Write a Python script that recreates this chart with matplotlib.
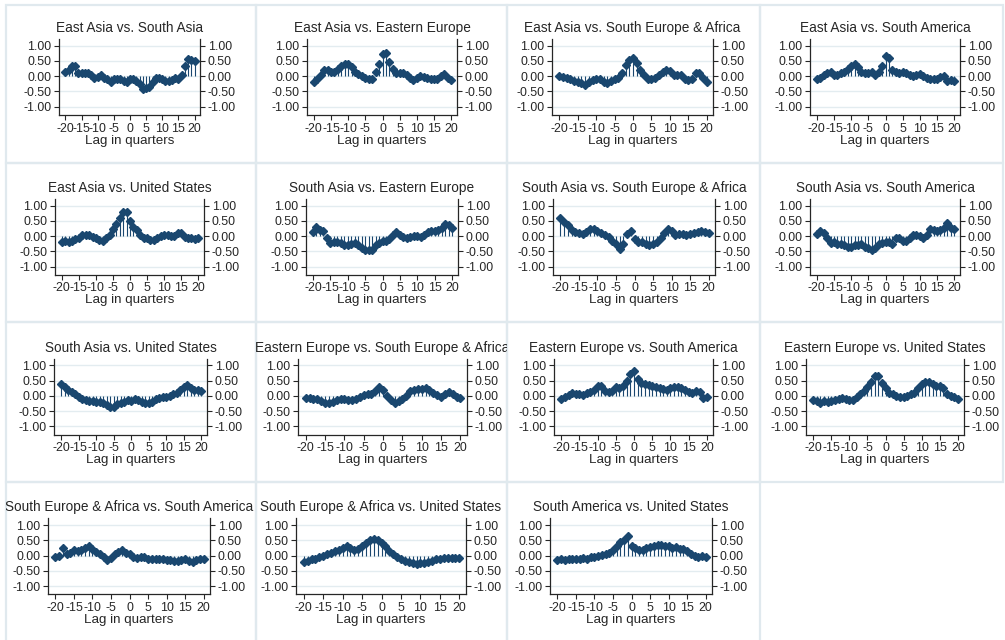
import numpy as np
import matplotlib
matplotlib.use("Agg")
import matplotlib.pyplot as plt
from matplotlib.patches import Rectangle
from matplotlib.transforms import Bbox, TransformedBbox

plt.rcParams['font.family'] = ['Liberation Sans', 'DejaVu Sans']
plt.rcParams['axes.unicode_minus'] = False

lags = np.arange(-20, 21)

titles = [
    "East Asia vs. South Asia",
    "East Asia vs. Eastern Europe",
    "East Asia vs. South Europe & Africa",
    "East Asia vs. South America",
    "East Asia vs. United States",
    "South Asia vs. Eastern Europe",
    "South Asia vs. South Europe & Africa",
    "South Asia vs. South America",
    "South Asia vs. United States",
    "Eastern Europe vs. South Europe & Africa",
    "Eastern Europe vs. South America",
    "Eastern Europe vs. United States",
    "South Europe & Africa vs. South America",
    "South Europe & Africa vs. United States",
    "South America vs. United States",
]

ea_sa = [0.15, 0.20, 0.33, 0.33, 0.12, 0.12, 0.10, 0.12, 0.05, -0.05,
         -0.02, 0.03, -0.05, -0.10, -0.18, -0.10, -0.08, -0.10, -0.15, -0.18,
         -0.08, -0.08, -0.15, -0.25, -0.42, -0.38, -0.35, -0.20, -0.05, -0.05,
         -0.08, -0.15, -0.15, -0.12, -0.05, -0.08, 0.05, 0.35, 0.55, 0.52, 0.50]
ea_ee = [-0.18, -0.10, 0.05, 0.20, 0.22, 0.15, 0.15, 0.25, 0.35, 0.40,
         0.40, 0.30, 0.15, 0.08, 0.02, -0.05, -0.08, -0.08, 0.15, 0.40,
         0.72, 0.75, 0.48, 0.25, 0.10, 0.12, 0.12, 0.05, -0.05, -0.12,
         -0.05, 0.00, -0.02, -0.05, -0.08, -0.10, -0.08, 0.00, 0.08, -0.05, -0.12]
ea_sea = [0.00, -0.03, -0.05, -0.10, -0.15, -0.18, -0.22, -0.28, -0.18, -0.12,
          -0.08, -0.10, -0.18, -0.22, -0.15, -0.10, -0.05, 0.12, 0.38, 0.52,
          0.60, 0.42, 0.22, 0.05, -0.10, -0.08, -0.05, 0.05, 0.15, 0.22,
          0.18, 0.05, 0.05, 0.05, -0.10, -0.12, -0.10, 0.10, 0.10, -0.05, -0.20]
ea_sam = [-0.08, -0.05, 0.05, 0.12, 0.15, 0.05, 0.05, 0.10, 0.15, 0.25,
          0.35, 0.40, 0.30, 0.15, 0.10, 0.12, 0.15, 0.05, 0.15, 0.32,
          0.65, 0.60, 0.22, 0.15, 0.12, 0.15, 0.10, 0.05, 0.00, 0.05,
          0.08, 0.00, -0.05, -0.08, -0.10, -0.08, -0.02, 0.02, -0.15, -0.12, -0.15]
ea_us = [-0.18, -0.15, -0.18, -0.15, -0.10, -0.05, 0.02, 0.05, 0.02, -0.02,
         -0.08, -0.12, -0.15, -0.05, 0.05, 0.22, 0.40, 0.60, 0.80, 0.78,
         0.50, 0.30, 0.20, 0.05, -0.05, -0.08, -0.12, -0.12, -0.05, 0.00,
         0.02, 0.02, 0.00, 0.00, 0.10, 0.10, -0.02, -0.08, -0.08, -0.10, -0.08]
sa_ee = [0.12, 0.28, 0.20, 0.15, -0.05, -0.22, -0.20, -0.20, -0.22, -0.28,
         -0.30, -0.25, -0.22, -0.30, -0.38, -0.45, -0.45, -0.45, -0.30, -0.22,
         -0.15, -0.15, -0.10, 0.05, 0.12, 0.05, -0.02, -0.05, -0.02, 0.00,
         0.00, -0.02, 0.05, 0.12, 0.15, 0.18, 0.20, 0.25, 0.38, 0.35, 0.25]
sa_sea = [0.58, 0.45, 0.35, 0.20, 0.12, 0.10, 0.08, 0.12, 0.22, 0.22,
          0.15, 0.10, 0.02, -0.02, -0.15, -0.25, -0.42, -0.25, 0.08, 0.15,
          -0.10, -0.20, -0.20, -0.25, -0.30, -0.25, -0.20, -0.05, 0.10, 0.22,
          0.15, 0.05, 0.08, 0.08, 0.05, 0.08, 0.10, 0.12, 0.18, 0.12, 0.10]
sa_sam = [0.08, 0.15, 0.10, -0.05, -0.22, -0.20, -0.25, -0.25, -0.30, -0.35,
          -0.35, -0.30, -0.28, -0.25, -0.35, -0.38, -0.45, -0.40, -0.25, -0.22,
          -0.20, -0.18, -0.25, -0.05, -0.05, -0.15, -0.15, -0.05, 0.02, 0.02,
          0.00, -0.05, 0.05, 0.22, 0.20, 0.18, 0.20, 0.25, 0.42, 0.25, 0.22]
sa_us = [0.40, 0.28, 0.18, 0.12, 0.05, -0.05, -0.12, -0.15, -0.18, -0.18,
         -0.20, -0.20, -0.25, -0.30, -0.35, -0.38, -0.28, -0.22, -0.20, -0.15,
         -0.18, -0.10, -0.15, -0.20, -0.25, -0.25, -0.20, -0.12, -0.08, -0.05,
         -0.05, 0.00, 0.05, 0.10, 0.20, 0.28, 0.35, 0.25, 0.18, 0.18, 0.15]
ee_sea = [-0.08, -0.08, -0.10, -0.12, -0.18, -0.22, -0.25, -0.20, -0.15, -0.12,
          -0.12, -0.15, -0.15, -0.10, -0.05, 0.02, 0.05, 0.05, 0.15, 0.28,
          0.20, 0.00, -0.15, -0.22, -0.18, -0.10, 0.00, 0.15, 0.20, 0.22,
          0.22, 0.25, 0.20, 0.10, 0.02, -0.05, 0.05, 0.12, 0.05, -0.05, -0.08]
ee_sam = [-0.12, -0.05, 0.02, 0.08, 0.05, 0.05, 0.02, 0.08, 0.12, 0.20,
          0.32, 0.32, 0.15, 0.12, 0.15, 0.28, 0.25, 0.32, 0.48, 0.70,
          0.82, 0.55, 0.42, 0.38, 0.35, 0.32, 0.28, 0.25, 0.22, 0.20,
          0.25, 0.28, 0.28, 0.25, 0.18, 0.12, 0.10, 0.15, 0.12, -0.08, -0.05]
ee_us = [-0.15, -0.18, -0.22, -0.18, -0.20, -0.18, -0.15, -0.12, -0.08, -0.12,
         -0.15, -0.15, -0.05, 0.05, 0.15, 0.30, 0.45, 0.65, 0.65, 0.42,
         0.25, 0.10, 0.05, -0.02, -0.05, -0.05, 0.00, 0.05, 0.10, 0.25,
         0.40, 0.45, 0.45, 0.38, 0.32, 0.32, 0.25, 0.05, -0.02, -0.05, -0.10]
sea_sam = [-0.05, 0.00, 0.25, 0.05, 0.10, 0.20, 0.15, 0.20, 0.25, 0.30,
           0.22, 0.12, 0.05, -0.05, -0.15, -0.08, 0.05, 0.12, 0.18, 0.10,
           0.05, -0.05, -0.08, -0.05, -0.05, -0.10, -0.10, -0.12, -0.10, -0.12,
           -0.15, -0.15, -0.18, -0.18, -0.15, -0.12, -0.18, -0.20, -0.15, -0.12, -0.10]
sea_us = [-0.20, -0.18, -0.12, -0.10, -0.05, 0.00, 0.05, 0.10, 0.15, 0.20,
          0.25, 0.30, 0.25, 0.20, 0.22, 0.30, 0.40, 0.50, 0.55, 0.50,
          0.42, 0.30, 0.15, 0.05, -0.05, -0.12, -0.18, -0.22, -0.25, -0.28,
          -0.25, -0.25, -0.20, -0.18, -0.12, -0.10, -0.08, -0.08, -0.08, -0.08, -0.08]
sam_us = [-0.15, -0.12, -0.15, -0.12, -0.10, -0.12, -0.10, -0.08, -0.10, -0.05,
          -0.05, 0.00, 0.02, 0.05, 0.10, 0.20, 0.30, 0.45, 0.50, 0.65,
          0.30, 0.25, 0.20, 0.20, 0.25, 0.28, 0.32, 0.35, 0.35, 0.32,
          0.30, 0.25, 0.28, 0.22, 0.22, 0.15, 0.05, 0.00, -0.05, -0.02, -0.05]

series = [ea_sa, ea_ee, ea_sea, ea_sam, ea_us, sa_ee, sa_sea, sa_sam, sa_us,
          ee_sea, ee_sam, ee_us, sea_sam, sea_us, sam_us]

ytick_vals = [-1.0, -0.5, 0.0, 0.5, 1.0]
xtick_vals = [-20, -15, -10, -5, 0, 5, 10, 15, 20]

# ---- layout (pixels) ----
W, H = 1005, 640
NAVY = '#1a476f'
FRAME = '#e0e9ee'
GRID = '#e3ecf0'
INK = '#262626'

col_edges = [6, 255.5, 507, 759.5, 1003]
row_edges = [5, 163, 322, 482, 645]
row_step = 159.8
axes_x = [(59, 200), (307, 457), (552, 713), (810, 960),
          (55, 204), (306, 458), (553, 715), (810, 960),
          (54, 207), (298, 467), (554, 713), (806, 964),
          (48, 210), (296, 466), (550, 712)]

fig = plt.figure(figsize=(W / 100, H / 100), dpi=100)
fig.patch.set_facecolor('white')


def fx(x):
    return x / W


def fy(y):
    return 1 - y / H


for i, (title, vals) in enumerate(zip(titles, series)):
    r, c = divmod(i, 4)
    x0c, x1c = col_edges[c], col_edges[c + 1]
    y0c, y1c = row_edges[r], row_edges[r + 1]

    # cell frame
    fig.patches.append(Rectangle((fx(x0c), fy(y1c)), fx(x1c) - fx(x0c),
                                 fy(y0c) - fy(y1c), transform=fig.transFigure,
                                 fill=False, edgecolor=FRAME, lw=1.6, zorder=0))

    left, right = axes_x[i]
    top = 39 + r * row_step
    bottom = 115 + r * row_step
    ax = fig.add_axes([fx(left), fy(bottom), fx(right) - fx(left),
                       fy(top) - fy(bottom)])
    ax.set_facecolor('white')

    ax.vlines(lags, 0, vals, color=NAVY, lw=0.8, zorder=3)
    ax.plot(lags, vals, 'D', ms=3.8, color=NAVY, mec=NAVY, zorder=4)

    ax.set_xlim(-22, 21.7)
    ax.set_ylim(-1.27, 1.22)
    ax.set_yticks(ytick_vals)
    ax.set_yticklabels([f"{v:.2f}" for v in ytick_vals])
    ax.set_xticks(xtick_vals)
    ax.set_xticklabels([str(v) for v in xtick_vals])
    ax.grid(axis='y', color=GRID, lw=1.0, zorder=1)
    ax.set_axisbelow(True)

    for s in ('left', 'right', 'bottom'):
        ax.spines[s].set_color(INK)
        ax.spines[s].set_linewidth(0.9)
    ax.spines['top'].set_visible(False)

    ax.tick_params(axis='y', left=True, right=True, labelleft=True,
                   labelright=True, direction='out', length=3.5, width=0.8,
                   pad=2.0, labelsize=8.9, colors=INK)
    ax.tick_params(axis='x', direction='out', length=3.5, width=0.8,
                   pad=2.0, labelsize=8.9, colors=INK)
    ax.set_xlabel("Lag in quarters", fontsize=9.6, labelpad=0.0, color=INK)

    t = fig.text(fx((left + right) / 2), fy(28 + r * row_step), title,
                 ha='center', va='center', fontsize=9.8, color=INK)
    clip = Bbox.from_extents(fx(x0c), fy(y1c), fx(x1c), fy(y0c))
    t.set_clip_box(TransformedBbox(clip, fig.transFigure))
    t.set_clip_on(True)

fig.savefig("out.png", dpi=100, facecolor='white')
